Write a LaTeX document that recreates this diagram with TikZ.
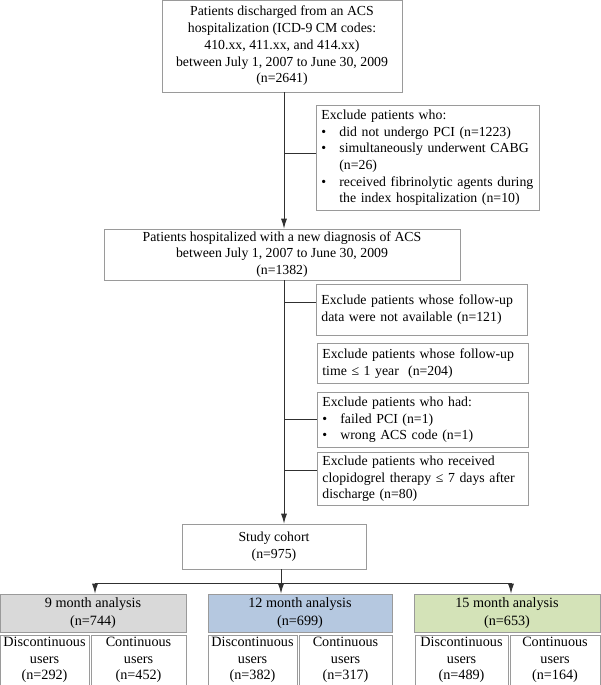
\documentclass[tikz,border=0pt]{standalone}
\usepackage{fontspec}
\setmainfont{Liberation Serif}
\usetikzlibrary{arrows.meta}

\definecolor{framegray}{HTML}{9A9A9A}
\definecolor{linkgray}{HTML}{303030}
\definecolor{fillnine}{HTML}{D9D9D9}
\definecolor{filltwelve}{HTML}{B5C8E0}
\definecolor{fillfifteen}{HTML}{D4E3B8}

\newcommand{\bulletitem}{\makebox[18pt][l]{\textbullet}}
\newcommand{\hangitem}{\hspace*{18pt}}

\begin{document}
\begin{tikzpicture}[x=1pt, y=-1pt, line width=0.8pt,
  font=\fontsize{13.8}{16.7}\selectfont,
  box/.style={draw=framegray, align=center, inner sep=1pt},
  exclbox/.style={draw=framegray, anchor=north west, align=left,
    inner xsep=5pt, inner ysep=2pt, text width=#1},
  groupbox/.style={box, font=\fontsize{14.2}{17.5}\selectfont},
  userbox/.style={box, font=\fontsize{14.2}{16.2}\selectfont, minimum height=50pt},
  link/.style={draw=linkgray},
  arr/.style={link, -{Latex[length=10pt,width=6pt]}}]

\useasboundingbox (0,0) rectangle (600,685);

\node[box, minimum width=240pt, minimum height=92pt] (source) at (282,46)
{Patients discharged from an ACS\\hospitalization (ICD-9 CM codes:\\410.xx, 411.xx, and 414.xx)\\between July 1, 2007 to June 30, 2009\\(n=2641)};

\node[exclbox=213pt, minimum height=105pt] (nopci) at (316,105)
{Exclude patients who:\\\bulletitem did not undergo PCI (n=1223)\\\bulletitem simultaneously underwent CABG\\\hangitem (n=26)\\\bulletitem received fibrinolytic agents during\\\hangitem the index hospitalization (n=10)};

\node[box, minimum width=356pt, minimum height=51pt] (newacs) at (282,254.5)
{Patients hospitalized with a new diagnosis of ACS\\between July 1, 2007 to June 30, 2009\\(n=1382)};

\node[exclbox=201pt, minimum height=51pt] (nodata) at (316,284)
{Exclude patients whose follow-up\\data were not available (n=121)};
\node[exclbox=201pt, minimum height=40pt] (shortfu) at (317,343)
{Exclude patients whose follow-up\\time ≤ 1 year~~(n=204)};
\node[exclbox=201pt, minimum height=55pt] (badcode) at (317,392)
{Exclude patients who had:\\\bulletitem failed PCI (n=1)\\\bulletitem wrong ACS code (n=1)};
\node[exclbox=201pt, minimum height=53pt] (clopi) at (317,452)
{Exclude patients who received\\clopidogrel therapy ≤ 7 days after\\discharge (n=80)};

\node[box, minimum width=184pt, minimum height=45pt] (cohort) at (274,546.5)
{Study cohort\\(n=975)};

% analysis groups
\node[groupbox, fill=fillnine, minimum width=186pt, minimum height=38pt] (mnine) at (93,613)
{9 month analysis\\(n=744)};
\node[groupbox, fill=filltwelve, minimum width=184pt, minimum height=38pt] (mtwelve) at (300,613)
{12 month analysis\\(n=699)};
\node[groupbox, fill=fillfifteen, minimum width=186pt, minimum height=38pt] (mfifteen) at (507,613)
{15 month analysis\\(n=653)};

\node[userbox, minimum width=89pt] (dnine) at (44.5,660) {Discontinuous\\users\\(n=292)};
\node[userbox, minimum width=95pt] (cnine) at (138.5,660) {Continuous\\users\\(n=452)};
\node[userbox, minimum width=89pt] (dtwelve) at (252.5,660) {Discontinuous\\users\\(n=382)};
\node[userbox, minimum width=93pt] (ctwelve) at (345.5,660) {Continuous\\users\\(n=317)};
\node[userbox, minimum width=93pt] (dfifteen) at (461.5,660) {Discontinuous\\users\\(n=489)};
\node[userbox, minimum width=90pt] (cfifteen) at (555,660) {Continuous\\users\\(n=164)};

% main flow
\coordinate (trunk) at (284,0);
\draw[arr] (source.south -| trunk) -- (newacs.north -| trunk);
\draw[arr] (newacs.south -| trunk) -- (cohort.north -| trunk);

\draw[link] (trunk |- 0,153) -- (nopci.west |- 0,153);
\draw[link] (trunk |- 0,302) -- (nodata.west |- 0,302);
\draw[link] (trunk |- 0,419) -- (badcode.west |- 0,419);
\draw[link] (trunk |- 0,470) -- (clopi.west |- 0,470);

\coordinate (split) at (281,583);
\draw[link] (cohort.south -| split) -- (split);
\draw[arr] (split) -- (mtwelve.north -| split);
\draw[arr] (split) -| (mnine.north -| 95,0);
\draw[arr] (split) -| (mfifteen.north -| 511,0);

\end{tikzpicture}
\end{document}
